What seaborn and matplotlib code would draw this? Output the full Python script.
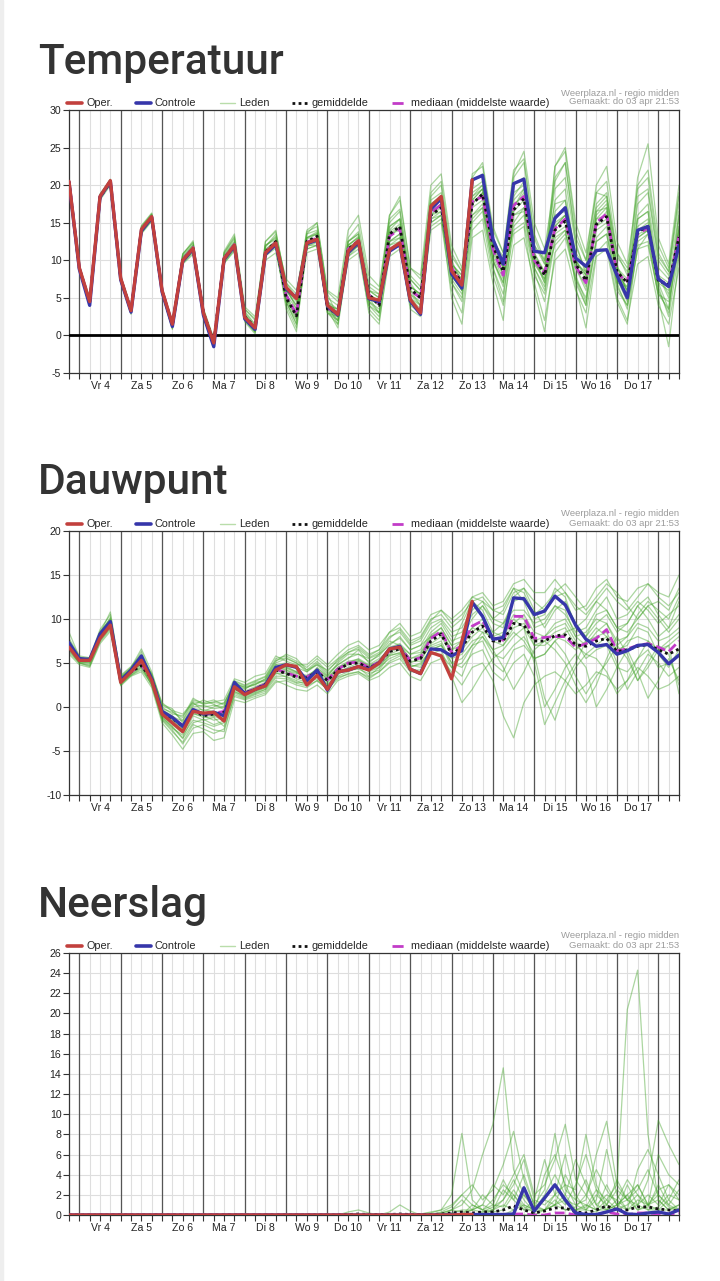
import numpy as np
import pandas as pd
import seaborn as sns
import matplotlib.pyplot as plt
from matplotlib.lines import Line2D
from matplotlib.patches import Rectangle

# 6-hour steps, starting do 3 apr 18:00 and ending vr 18 apr 12:00
steps = list(range(60))
day_labels = ['Vr 4', 'Za 5', 'Zo 6', 'Ma 7', 'Di 8', 'Wo 9', 'Do 10',
              'Vr 11', 'Za 12', 'Zo 13', 'Ma 14', 'Di 15', 'Wo 16', 'Do 17']

# ---------------- Temperatuur ----------------
temp_oper = [20.5, 9.0, 4.5, 18.5, 20.6, 7.6, 3.3, 14.1, 15.8, 6.0, 1.5, 10.0, 11.6, 3.0, -1.0, 10.2,
             12.0, 2.4, 1.0, 11.0, 12.3, 6.4, 4.9, 12.3, 12.8, 4.0, 2.8, 11.2, 12.6, 5.0, 4.7, 11.4,
             12.3, 4.8, 3.0, 17.2, 18.5, 8.6, 6.7, 20.7]
temp_controle = [20.4, 8.8, 4.0, 18.4, 20.5, 7.4, 3.1, 13.9, 15.7, 5.8, 1.2, 9.9, 11.5, 2.7, -1.5, 10.1,
                 11.9, 2.2, 0.8, 10.8, 12.1, 6.2, 5.0, 12.2, 12.7, 3.9, 2.7, 11.0, 12.4, 4.9, 4.5, 11.2,
                 12.1, 4.6, 2.8, 16.8, 18.2, 8.2, 6.3, 20.7, 21.3, 12.8, 9.5, 20.2, 20.8, 11.2, 11.0, 15.6,
                 17.0, 10.3, 9.2, 11.3, 11.4, 8.0, 5.0, 14.0, 14.5, 7.5, 6.5, 12.0]
temp_mean = [20.4, 8.9, 4.4, 18.4, 20.4, 7.5, 3.3, 14.0, 15.7, 5.9, 1.4, 10.0, 11.6, 3.0, -0.9, 10.2,
             12.0, 2.5, 1.1, 11.1, 12.5, 5.0, 2.6, 12.5, 13.2, 3.5, 3.0, 11.5, 12.5, 5.5, 4.0, 13.5,
             14.5, 6.2, 5.0, 16.0, 17.0, 9.0, 7.0, 17.5, 18.8, 12.0, 8.5, 16.7, 18.2, 10.5, 8.0, 14.0,
             15.2, 9.5, 7.3, 14.8, 15.8, 8.5, 7.0, 13.8, 14.5, 7.2, 6.8, 13.1]
temp_median = [20.5, 9.0, 4.5, 18.5, 20.5, 7.6, 3.3, 14.1, 15.8, 6.0, 1.5, 10.1, 11.7, 3.0, -1.0, 10.3,
               12.1, 2.5, 1.0, 11.1, 12.4, 5.4, 2.8, 12.4, 13.0, 3.6, 3.0, 11.5, 12.6, 5.4, 4.2, 13.2,
               14.2, 6.0, 5.0, 16.3, 17.4, 9.0, 7.0, 17.8, 18.5, 11.5, 8.0, 17.3, 18.5, 10.0, 8.3, 14.2,
               15.5, 9.2, 7.0, 15.0, 16.2, 8.2, 7.2, 13.5, 14.3, 7.5, 6.6, 13.3]
temp_leden = [
    [20.3, 9.2, 4.8, 18.7, 20.6, 7.8, 3.6, 14.4, 16.1, 6.3, 1.8, 10.6, 12.1, 3.5, -0.5, 10.8,
     12.8, 3.2, 1.5, 11.8, 13.5, 7.0, 5.5, 13.8, 14.5, 5.8, 4.5, 13.0, 14.8, 7.0, 6.0, 15.5,
     16.8, 8.0, 6.5, 19.0, 20.5, 11.0, 8.5, 21.5, 22.5, 14.0, 11.0, 22.0, 23.5, 13.5, 10.0, 19.5,
     21.0, 12.0, 8.5, 16.0, 17.5, 9.0, 6.0, 17.5, 19.0, 10.0, 8.0, 16.0],
    [20.4, 8.7, 4.2, 18.2, 20.2, 7.2, 2.8, 13.5, 15.2, 5.6, 0.8, 9.5, 10.8, 2.4, -1.6, 9.6,
     11.2, 1.8, 0.2, 10.0, 11.0, 5.0, 2.2, 11.0, 11.5, 3.0, 1.5, 10.0, 11.0, 3.5, 2.0, 10.5,
     11.5, 4.0, 3.0, 14.0, 15.0, 6.0, 3.0, 14.0, 15.5, 8.0, 4.0, 12.0, 13.0, 7.0, 2.0, 10.0,
     11.5, 6.0, 3.0, 11.0, 12.5, 5.0, 2.0, 9.5, 10.5, 4.0, 1.5, 9.0],
    [20.6, 9.0, 4.4, 18.4, 20.5, 7.4, 3.0, 14.2, 15.9, 5.9, 1.2, 10.2, 11.8, 2.8, -1.2, 10.4,
     12.3, 2.8, 1.0, 12.5, 14.0, 6.5, 3.5, 13.0, 13.8, 4.5, 3.0, 12.0, 13.0, 5.5, 4.5, 14.5,
     15.5, 6.5, 5.5, 17.0, 18.0, 9.0, 7.5, 19.5, 20.5, 12.0, 9.0, 18.0, 19.5, 10.5, 7.0, 16.5,
     18.0, 11.0, 9.0, 19.0, 20.5, 11.0, 9.0, 14.0, 15.0, 8.0, 5.0, 14.5],
    [20.5, 9.1, 4.6, 18.6, 20.4, 7.6, 3.4, 14.6, 16.3, 6.1, 1.6, 10.8, 12.4, 3.2, -0.8, 11.2,
     13.5, 3.8, 2.5, 12.0, 12.8, 4.5, 1.5, 12.0, 12.5, 3.5, 2.0, 12.5, 13.5, 6.0, 5.0, 16.0,
     18.5, 9.0, 7.5, 18.0, 19.0, 8.0, 6.0, 17.0, 18.0, 10.0, 7.0, 21.0, 23.0, 13.0, 9.5, 22.5,
     24.5, 14.0, 10.0, 17.0, 18.5, 9.5, 5.5, 15.5, 16.5, 7.0, 3.5, 12.5],
    [20.2, 8.8, 4.0, 18.0, 20.0, 7.0, 3.2, 13.8, 15.5, 5.5, 1.0, 9.8, 11.2, 2.6, -1.4, 9.8,
     11.5, 2.0, 0.5, 10.5, 12.0, 6.0, 4.5, 12.0, 12.0, 4.0, 2.0, 10.5, 12.0, 4.5, 3.5, 12.0,
     13.0, 5.0, 3.5, 16.0, 17.5, 8.5, 6.0, 17.5, 19.0, 11.0, 8.0, 14.0, 15.0, 8.0, 5.5, 13.0,
     14.0, 7.0, 4.0, 16.5, 18.0, 9.0, 7.0, 20.0, 22.0, 12.0, 9.0, 18.5],
    [20.4, 9.3, 5.0, 18.8, 20.8, 8.0, 3.8, 14.0, 15.6, 6.0, 1.4, 10.4, 11.6, 3.0, -1.0, 10.2,
     12.0, 2.5, 1.2, 11.0, 12.5, 5.5, 2.5, 13.5, 15.0, 5.5, 2.5, 11.5, 12.5, 5.0, 3.0, 13.0,
     14.5, 7.0, 5.0, 18.5, 20.0, 10.0, 7.0, 16.0, 17.0, 9.0, 4.5, 17.0, 19.0, 11.0, 8.0, 21.0,
     23.0, 12.5, 8.0, 14.5, 15.5, 7.0, 3.5, 11.5, 13.5, 6.0, 3.0, 14.5],
    [20.5, 9.0, 4.3, 18.5, 20.6, 7.5, 3.3, 14.0, 15.8, 6.0, 1.5, 10.0, 11.5, 3.0, -1.1, 10.2,
     12.0, 2.4, 0.8, 11.5, 12.5, 6.5, 5.0, 12.5, 12.5, 3.5, 2.5, 11.5, 12.5, 4.5, 3.0, 13.5,
     14.5, 5.0, 4.0, 16.0, 17.0, 7.5, 5.5, 20.5, 21.5, 13.0, 10.0, 20.0, 21.0, 11.0, 8.5, 18.0,
     19.5, 10.0, 7.5, 14.0, 15.0, 8.5, 6.0, 13.5, 14.0, 7.5, 6.5, 13.5],
    [20.4, 8.9, 4.5, 18.3, 20.3, 7.3, 3.1, 13.6, 15.4, 5.7, 1.1, 9.7, 11.3, 2.7, -1.3, 10.0,
     11.8, 2.2, 0.6, 10.8, 11.8, 4.0, 1.0, 11.5, 12.0, 3.5, 1.0, 10.8, 12.0, 4.0, 2.5, 12.5,
     13.5, 4.5, 2.8, 15.5, 16.5, 7.0, 4.5, 15.0, 16.5, 9.0, 5.5, 13.5, 14.5, 6.0, 0.5, 11.0,
     13.0, 7.5, 4.0, 12.5, 13.5, 6.0, 4.0, 13.0, 14.0, 6.5, 2.5, 11.0],
    [20.6, 9.1, 4.7, 18.6, 20.7, 7.7, 3.5, 14.3, 16.0, 6.2, 1.7, 10.3, 11.9, 3.3, -0.6, 10.6,
     12.5, 3.5, 2.0, 12.0, 13.0, 7.5, 6.0, 13.0, 13.5, 5.0, 4.0, 12.5, 13.5, 5.0, 4.0, 14.0,
     15.5, 7.5, 6.0, 17.5, 18.5, 9.5, 8.0, 18.0, 19.5, 11.5, 9.0, 19.0, 20.0, 12.0, 10.0, 17.5,
     18.0, 10.0, 8.0, 15.5, 16.0, 8.0, 6.0, 18.5, 19.5, 10.5, 8.5, 17.5],
    [20.3, 8.9, 4.3, 18.4, 20.4, 7.5, 3.2, 14.1, 15.7, 5.8, 1.3, 10.1, 11.6, 2.9, -1.0, 10.3,
     12.2, 2.3, 0.7, 11.0, 12.0, 3.5, 0.5, 12.5, 12.8, 4.0, 1.5, 11.0, 12.0, 3.0, 1.5, 11.5,
     12.5, 3.5, 2.5, 15.0, 16.0, 5.0, 1.5, 13.0, 14.0, 7.0, 2.0, 16.0, 17.0, 9.0, 6.0, 14.5,
     16.0, 6.5, 1.0, 10.5, 11.5, 4.5, 1.5, 12.5, 13.5, 5.0, -1.5, 10.5],
    [20.5, 9.0, 4.6, 18.5, 20.5, 7.6, 3.4, 14.2, 16.0, 6.1, 1.6, 10.2, 11.7, 3.1, -0.9, 10.3,
     12.1, 2.6, 1.1, 11.2, 12.3, 5.0, 3.0, 12.5, 13.0, 4.0, 3.5, 12.0, 13.0, 6.0, 5.0, 13.5,
     14.0, 6.0, 5.0, 16.5, 17.5, 8.0, 6.5, 18.5, 19.5, 10.0, 7.0, 16.0, 16.5, 9.0, 6.5, 14.5,
     16.0, 9.0, 6.0, 16.5, 17.0, 7.5, 4.5, 15.5, 16.5, 8.0, 5.5, 15.5],
    [20.4, 9.0, 4.4, 18.5, 20.5, 7.4, 3.3, 14.0, 15.8, 6.0, 1.5, 10.0, 11.6, 3.0, -1.0, 10.2,
     12.0, 2.5, 1.0, 11.0, 12.3, 6.0, 4.0, 12.0, 12.8, 4.5, 2.5, 11.5, 12.8, 5.5, 4.5, 12.0,
     12.5, 6.0, 4.0, 17.5, 18.5, 10.5, 8.5, 21.0, 23.0, 14.5, 11.0, 16.5, 18.0, 10.0, 7.0, 22.5,
     25.0, 15.0, 11.0, 19.0, 18.5, 11.0, 8.0, 21.0, 25.5, 13.0, 9.5, 20.0],
    [20.5, 9.1, 4.5, 18.6, 20.6, 7.7, 3.4, 14.3, 16.0, 6.1, 1.6, 10.8, 12.6, 3.4, -0.7, 11.0,
     13.0, 3.0, 1.4, 11.8, 13.2, 4.5, 2.0, 13.5, 14.0, 3.0, 2.5, 12.5, 13.8, 6.5, 5.5, 15.0,
     16.5, 7.5, 6.0, 15.5, 16.0, 9.5, 8.0, 18.5, 20.0, 12.5, 9.0, 18.5, 20.5, 12.0, 9.5, 16.0,
     16.5, 8.0, 4.5, 12.5, 13.5, 7.0, 6.5, 16.0, 17.5, 9.0, 7.5, 14.0],
    [20.4, 8.9, 4.4, 18.3, 20.3, 7.4, 3.2, 13.8, 15.5, 5.8, 1.3, 9.6, 11.0, 2.6, -1.5, 9.6,
     11.4, 2.0, 0.4, 11.0, 12.0, 5.5, 3.5, 11.5, 12.0, 4.5, 3.5, 10.5, 11.5, 6.0, 5.5, 12.5,
     13.5, 5.5, 4.5, 14.5, 15.5, 8.0, 6.0, 16.0, 17.5, 10.0, 6.5, 15.0, 17.0, 9.5, 7.5, 12.0,
     13.5, 9.5, 8.5, 17.5, 19.0, 10.5, 8.5, 12.0, 12.5, 5.5, 3.5, 16.5],
    [20.5, 9.0, 4.6, 18.5, 20.5, 7.5, 3.4, 14.2, 15.9, 6.0, 1.4, 10.4, 12.0, 3.1, -0.8, 10.6,
     12.4, 2.8, 1.2, 11.4, 12.6, 6.0, 4.0, 13.0, 13.6, 4.0, 3.5, 12.0, 13.2, 5.0, 4.0, 14.5,
     15.5, 6.5, 5.5, 16.5, 17.5, 9.5, 7.5, 18.0, 19.5, 12.0, 9.5, 17.5, 18.5, 10.0, 7.5, 15.0,
     16.0, 9.0, 6.5, 15.5, 17.0, 8.0, 6.5, 14.5, 15.5, 7.0, 6.0, 14.0],
    [20.3, 8.8, 4.1, 18.2, 20.2, 7.3, 3.0, 13.7, 15.3, 5.6, 0.9, 9.7, 11.2, 2.5, -1.4, 9.9,
     11.6, 2.1, 0.5, 10.6, 11.6, 4.5, 1.5, 11.8, 12.4, 3.0, 2.0, 11.0, 12.0, 4.0, 3.0, 12.5,
     13.0, 5.5, 4.0, 15.0, 16.0, 7.0, 5.0, 15.5, 17.0, 10.5, 7.5, 14.5, 16.0, 8.5, 4.5, 12.5,
     14.0, 7.5, 5.0, 13.0, 14.5, 6.5, 4.0, 11.5, 12.0, 5.5, 4.5, 11.5],
    [20.6, 9.2, 4.9, 18.8, 20.7, 7.8, 3.7, 14.5, 16.2, 6.4, 1.9, 10.9, 12.3, 3.6, -0.4, 11.0,
     13.2, 3.5, 2.2, 12.5, 13.8, 7.0, 5.0, 14.0, 15.0, 6.0, 5.0, 14.0, 16.0, 8.0, 6.5, 16.0,
     18.0, 9.0, 8.0, 20.0, 21.5, 12.0, 9.0, 19.0, 20.0, 12.5, 10.5, 21.5, 24.5, 15.0, 11.5, 20.5,
     23.0, 13.0, 10.0, 20.0, 22.5, 12.5, 9.5, 19.5, 21.0, 11.0, 8.5, 19.0],
    [20.4, 9.0, 4.5, 18.4, 20.4, 7.5, 3.3, 14.0, 15.7, 5.9, 1.5, 9.9, 11.5, 3.0, -1.0, 10.1,
     11.9, 2.5, 1.0, 11.2, 12.6, 4.8, 2.5, 12.8, 13.5, 3.5, 3.0, 11.8, 12.5, 5.5, 4.5, 13.8,
     14.8, 6.5, 5.5, 16.0, 16.5, 8.5, 6.5, 17.5, 19.0, 11.5, 8.0, 17.0, 19.5, 10.5, 8.5, 13.5,
     14.5, 10.0, 8.0, 14.5, 16.5, 9.0, 7.5, 13.0, 14.0, 8.0, 7.0, 12.5],
]

# ---------------- Dauwpunt ----------------
dauw_oper = [6.8, 5.3, 5.3, 7.8, 9.3, 2.8, 4.0, 5.3, 3.0, -0.8, -1.8, -2.8, -0.5, -0.7, -0.6, -1.6,
             2.3, 1.4, 2.0, 2.4, 4.2, 4.8, 4.6, 2.5, 3.6, 2.0, 4.0, 4.2, 4.6, 4.2, 5.0, 6.6,
             6.8, 4.3, 3.8, 6.2, 5.8, 3.2, 7.5, 12.0]
dauw_controle = [7.3, 5.5, 5.4, 8.3, 9.7, 3.0, 4.2, 5.8, 3.2, -0.5, -1.2, -2.2, -0.3, -0.8, -0.6, -1.0,
                 2.8, 1.5, 2.0, 2.5, 4.5, 4.8, 4.5, 3.0, 4.2, 1.9, 4.0, 4.2, 4.6, 4.3, 5.0, 6.6,
                 6.9, 4.3, 3.8, 6.6, 6.5, 5.8, 6.4, 11.9, 10.3, 7.7, 7.9, 12.4, 12.3, 10.5, 10.9, 12.6,
                 11.6, 9.3, 7.7, 6.9, 7.1, 6.0, 6.4, 7.0, 7.1, 6.2, 4.9, 5.9]
dauw_mean = [7.0, 5.4, 5.3, 8.0, 9.5, 3.0, 4.0, 4.7, 3.2, -0.6, -1.3, -2.2, -0.4, -1.0, -0.8, -0.6,
             2.2, 1.6, 2.0, 2.6, 4.2, 3.8, 3.4, 3.3, 4.0, 3.0, 4.2, 4.9, 5.0, 4.4, 5.0, 6.3,
             6.6, 5.2, 5.5, 7.5, 8.3, 6.0, 6.8, 8.5, 9.2, 7.5, 7.5, 9.5, 9.3, 7.5, 7.5, 8.1,
             8.2, 7.1, 6.9, 7.5, 7.8, 6.3, 6.5, 6.9, 7.1, 6.5, 6.0, 6.6]
dauw_median = [7.0, 5.4, 5.3, 8.0, 9.5, 3.0, 4.0, 4.8, 3.2, -0.6, -1.2, -2.1, -0.3, -0.9, -0.7, -0.5,
               2.2, 1.6, 2.1, 2.6, 4.3, 3.9, 3.5, 3.4, 4.1, 3.1, 4.3, 5.0, 5.1, 4.5, 5.1, 6.4,
               6.8, 5.3, 5.6, 7.8, 8.6, 6.2, 7.0, 9.2, 9.8, 7.8, 7.6, 10.3, 10.3, 7.8, 7.9, 8.0,
               8.0, 6.8, 7.2, 7.8, 8.8, 6.4, 6.6, 7.0, 7.2, 6.8, 6.3, 7.5]
dauw_leden = [
    [7.5, 5.6, 5.2, 8.2, 10.2, 3.3, 4.4, 6.3, 3.6, 0.5, -0.5, -1.5, 0.8, 0.5, 0.8, 0.2,
     3.0, 2.5, 3.0, 3.5, 5.5, 5.8, 5.2, 4.5, 5.5, 4.5, 5.5, 6.5, 7.0, 6.0, 6.5, 8.0,
     8.5, 7.0, 7.5, 9.5, 10.0, 8.5, 9.0, 11.0, 12.0, 11.0, 10.5, 13.0, 13.5, 12.0, 11.0, 12.5,
     13.0, 11.5, 10.5, 12.0, 13.5, 12.0, 11.0, 12.5, 14.0, 12.5, 11.5, 13.0],
    [6.2, 5.0, 4.6, 7.4, 8.8, 2.5, 3.6, 4.2, 2.6, -1.5, -2.8, -4.0, -2.0, -2.5, -3.0, -2.5,
     1.2, 0.8, 1.2, 1.6, 3.0, 2.5, 2.0, 1.8, 2.5, 1.5, 3.0, 3.5, 3.8, 3.0, 3.5, 4.5,
     5.0, 3.5, 3.0, 5.0, 5.5, 4.0, 2.5, 4.5, 5.0, 3.0, -1.0, -3.5, 0.5, 2.5, 3.5, 4.0,
     3.0, 1.5, 2.5, 4.0, 3.5, 2.0, 3.0, 4.5, 3.5, 2.0, 2.5, 3.5],
    [7.0, 5.3, 5.4, 8.6, 10.0, 3.4, 4.2, 5.5, 3.8, 0.0, -0.8, -1.0, 0.5, -0.5, 0.0, 0.5,
     2.5, 2.0, 2.8, 3.0, 4.8, 4.5, 4.0, 3.0, 4.5, 3.5, 5.0, 6.0, 6.0, 5.5, 6.0, 7.5,
     7.0, 6.0, 6.5, 8.5, 9.5, 7.5, 8.0, 10.0, 11.5, 9.5, 9.0, 12.5, 13.5, 11.0, 9.0, 11.0,
     12.0, 9.5, 8.0, 10.5, 11.0, 9.0, 8.5, 10.0, 11.5, 10.0, 8.5, 10.0],
    [6.5, 5.1, 5.0, 7.6, 9.0, 2.6, 3.8, 4.8, 2.4, -1.2, -2.2, -3.5, -1.0, -1.5, -1.2, -2.2,
     1.6, 1.0, 1.5, 2.0, 3.5, 3.5, 3.0, 2.5, 3.5, 2.5, 3.5, 4.0, 4.5, 3.5, 4.5, 5.5,
     6.0, 4.5, 5.0, 6.5, 7.0, 5.5, 6.0, 7.5, 8.0, 6.0, 5.5, 7.0, 8.0, 6.0, 1.0, -1.5,
     2.0, 4.5, 6.0, 5.5, 4.0, 1.5, 3.0, 5.5, 6.5, 4.5, 5.0, 6.0],
    [7.8, 5.8, 5.6, 8.8, 10.5, 3.6, 4.6, 6.0, 3.4, -0.3, -1.0, -2.0, 0.2, 0.8, 0.3, -0.3,
     2.8, 2.2, 2.5, 3.2, 5.0, 5.5, 5.0, 4.0, 5.0, 3.8, 4.8, 5.5, 6.5, 5.0, 6.0, 7.0,
     8.0, 6.5, 7.0, 8.0, 9.0, 7.0, 9.5, 12.0, 11.0, 8.5, 9.5, 12.0, 12.5, 10.0, 10.5, 13.5,
     12.5, 9.0, 8.0, 9.5, 10.5, 8.5, 9.5, 11.5, 10.0, 8.0, 9.0, 12.0],
    [6.8, 5.2, 5.1, 7.9, 9.4, 2.9, 4.0, 5.0, 2.9, -1.0, -2.0, -3.0, -0.8, -1.0, -1.5, -1.2,
     2.0, 1.2, 1.8, 2.2, 4.0, 4.0, 3.5, 3.0, 3.8, 2.8, 4.0, 4.5, 5.0, 4.0, 4.5, 6.0,
     6.5, 5.0, 5.5, 7.0, 7.5, 5.0, 4.5, 6.0, 6.5, 4.0, 3.0, 5.0, 6.0, 3.5, -2.0, 0.5,
     3.0, 5.0, 7.5, 9.0, 8.0, 5.0, 2.0, 4.0, 6.0, 5.0, 3.5, 4.5],
    [7.2, 5.5, 5.5, 8.1, 9.6, 3.1, 4.3, 5.2, 3.3, -0.5, -1.5, -2.4, -0.2, -0.3, -0.5, -0.8,
     2.4, 1.8, 2.3, 2.8, 4.5, 4.2, 3.8, 3.6, 4.2, 3.2, 4.5, 5.0, 5.5, 4.8, 5.5, 6.5,
     7.0, 5.5, 6.0, 8.0, 8.5, 6.5, 7.5, 9.0, 10.0, 8.0, 8.5, 10.5, 10.0, 7.0, 7.5, 8.5,
     9.0, 7.0, 6.0, 7.0, 8.0, 6.5, 7.0, 9.0, 8.5, 6.0, 7.0, 8.0],
    [6.0, 4.8, 4.5, 7.2, 8.6, 2.4, 3.5, 4.0, 2.2, -1.8, -3.2, -4.8, -3.0, -2.8, -3.8, -3.5,
     0.8, 0.5, 1.0, 1.4, 2.8, 3.0, 2.5, 2.2, 3.0, 2.0, 3.2, 3.8, 4.0, 3.2, 4.0, 5.0,
     5.5, 4.0, 4.0, 6.0, 6.5, 3.5, 0.5, 2.0, 4.0, 5.5, 6.5, 8.0, 9.0, 5.0, 0.0, 2.0,
     4.5, 6.0, 4.5, 0.0, 2.0, 4.5, 6.5, 4.0, 1.0, 3.0, 5.5, 3.0],
    [8.5, 5.7, 5.3, 8.4, 10.8, 3.5, 4.5, 6.6, 4.0, 0.3, -0.2, -1.8, 0.0, 0.2, -0.2, 0.0,
     2.6, 2.3, 2.6, 3.2, 5.2, 6.0, 5.5, 4.2, 4.8, 4.2, 5.2, 6.2, 6.8, 5.8, 6.5, 8.5,
     9.0, 7.5, 8.0, 10.0, 10.5, 9.0, 10.0, 12.5, 13.0, 11.5, 12.0, 14.0, 14.5, 13.0, 13.0, 14.5,
     13.0, 11.0, 11.5, 13.5, 14.5, 12.5, 12.0, 13.5, 14.0, 13.0, 12.5, 15.0],
    [6.6, 5.0, 4.8, 7.7, 9.2, 2.7, 3.7, 4.5, 2.7, -1.3, -2.4, -3.2, -1.5, -1.8, -2.2, -1.8,
     1.8, 1.1, 1.6, 2.0, 3.8, 3.8, 3.2, 2.8, 3.2, 2.2, 3.8, 4.2, 4.3, 3.8, 4.2, 5.8,
     6.2, 4.8, 4.5, 6.8, 7.2, 4.5, 5.0, 7.0, 7.5, 5.0, 4.0, 6.5, 7.0, 5.5, 6.0, 7.5,
     6.0, 3.5, 1.5, 3.5, 5.0, 7.0, 5.5, 3.0, 5.0, 7.0, 6.0, 2.5],
    [7.4, 5.4, 5.4, 8.0, 9.8, 3.2, 4.1, 5.6, 3.5, -0.2, -0.6, -1.2, 1.0, 0.3, 0.6, 0.8,
     3.2, 2.8, 3.5, 3.8, 5.8, 5.2, 4.8, 4.8, 5.8, 4.8, 6.0, 7.0, 7.5, 6.5, 7.0, 8.5,
     9.5, 8.0, 8.5, 10.5, 11.0, 10.0, 11.0, 12.5, 12.0, 10.0, 11.0, 13.5, 12.0, 9.0, 9.5, 11.5,
     10.5, 8.5, 9.0, 11.0, 12.5, 10.0, 10.5, 12.0, 11.0, 9.5, 10.5, 11.5],
    [6.9, 5.2, 5.2, 7.9, 9.5, 2.9, 3.9, 5.0, 3.0, -0.9, -1.9, -2.6, -0.6, -0.8, -0.9, -1.0,
     2.2, 1.5, 2.1, 2.5, 4.3, 4.6, 4.0, 3.2, 4.0, 3.0, 4.2, 4.8, 5.2, 4.4, 5.2, 6.2,
     6.8, 5.2, 5.2, 7.2, 8.0, 6.0, 6.5, 8.0, 9.0, 7.5, 7.0, 9.0, 9.5, 7.5, 8.0, 9.5,
     10.0, 8.0, 7.0, 8.5, 9.5, 7.0, 8.0, 9.5, 9.0, 7.5, 8.0, 9.0],
    [7.1, 5.3, 5.3, 8.0, 9.6, 3.0, 4.0, 5.1, 3.1, -0.7, -1.6, -2.5, -0.5, -0.9, -1.0, -0.9,
     2.1, 1.4, 1.9, 2.4, 4.1, 4.2, 3.6, 3.4, 4.4, 3.4, 4.5, 5.2, 5.4, 4.6, 5.3, 6.8,
     7.2, 6.0, 6.2, 8.2, 9.0, 7.0, 7.5, 9.0, 8.5, 6.5, 7.0, 8.5, 7.5, 5.5, 6.0, 7.5,
     8.5, 9.0, 10.0, 12.0, 11.0, 9.0, 9.5, 11.5, 12.5, 10.5, 9.0, 10.5],
    [6.7, 5.1, 5.0, 7.7, 9.3, 2.8, 3.8, 4.6, 2.8, -1.1, -2.3, -3.6, -1.8, -1.4, -2.0, -1.6,
     1.7, 1.3, 1.7, 2.2, 3.9, 3.4, 2.8, 2.8, 3.6, 2.6, 3.7, 4.4, 4.7, 4.1, 4.7, 5.9,
     6.1, 4.6, 4.8, 6.5, 7.0, 5.0, 5.5, 7.0, 8.5, 8.0, 7.5, 9.5, 10.5, 8.5, 8.0, 9.0,
     9.5, 7.5, 5.5, 6.5, 7.0, 4.5, 4.0, 5.5, 7.5, 6.0, 4.5, 6.5],
    [7.3, 5.5, 5.6, 8.3, 9.9, 3.3, 4.3, 5.4, 3.4, -0.4, -1.1, -1.6, 0.4, 0.0, 0.2, 0.0,
     2.7, 2.1, 2.6, 3.0, 4.8, 5.0, 4.5, 4.0, 4.8, 3.6, 4.8, 5.6, 6.0, 5.2, 5.8, 7.2,
     7.8, 6.5, 7.0, 9.0, 9.8, 8.0, 8.5, 10.5, 11.5, 10.0, 9.5, 11.0, 11.0, 9.5, 10.0, 11.5,
     11.0, 8.0, 8.5, 10.0, 9.5, 7.5, 8.0, 10.5, 12.0, 11.0, 10.0, 12.5],
    [6.4, 5.0, 4.7, 7.5, 9.0, 2.6, 3.6, 4.4, 2.5, -1.4, -2.6, -4.2, -2.4, -2.0, -2.6, -2.8,
     1.4, 0.9, 1.4, 1.8, 3.3, 3.2, 2.7, 2.4, 3.0, 2.0, 3.4, 3.7, 4.0, 3.4, 4.0, 5.2,
     5.8, 4.2, 4.2, 6.0, 6.0, 4.5, 3.5, 6.5, 8.0, 6.5, 4.5, 2.0, 4.0, 6.5, 7.5, 6.5,
     5.0, 2.5, 0.5, 2.5, 5.5, 8.0, 6.0, 3.0, 4.5, 6.5, 7.0, 1.5],
    [7.6, 5.6, 5.5, 8.5, 10.0, 3.4, 4.4, 5.8, 3.7, 0.2, -0.4, -0.8, 0.6, 0.4, 0.5, 0.4,
     2.9, 2.4, 2.9, 3.4, 5.3, 5.6, 5.0, 4.2, 5.2, 4.0, 5.4, 6.2, 6.6, 5.6, 6.2, 7.8,
     8.8, 7.2, 7.8, 9.8, 11.0, 9.5, 10.5, 12.0, 12.5, 11.0, 11.5, 13.5, 13.0, 10.5, 11.5, 13.0,
     14.0, 12.5, 11.0, 12.5, 14.0, 13.0, 11.5, 10.0, 11.5, 12.0, 11.0, 13.5],
    [7.0, 5.3, 5.2, 7.8, 9.4, 3.0, 4.0, 4.9, 3.1, -0.8, -1.7, -2.8, -0.7, -1.2, -1.1, -1.3,
     2.0, 1.6, 2.2, 2.7, 4.4, 4.4, 3.9, 3.5, 4.2, 3.2, 4.3, 5.0, 5.3, 4.7, 5.2, 6.4,
     7.0, 5.5, 5.8, 7.8, 8.5, 6.5, 7.0, 8.5, 9.5, 8.5, 8.0, 10.0, 9.0, 7.0, 7.0, 8.0,
     7.5, 6.5, 7.5, 8.0, 8.5, 6.0, 7.5, 8.0, 7.5, 6.5, 7.5, 8.5],
]

# ---------------- Neerslag ----------------
neer_oper = [0, 0, 0, 0, 0, 0, 0, 0, 0, 0, 0, 0, 0, 0, 0, 0, 0, 0, 0, 0,
             0, 0, 0, 0, 0, 0, 0, 0, 0, 0, 0, 0, 0, 0, 0, 0, 0, 0, 0.05, 0.05]
neer_controle = [0, 0, 0, 0, 0, 0, 0, 0, 0, 0, 0, 0, 0, 0, 0, 0, 0, 0, 0, 0,
                 0, 0, 0, 0, 0, 0, 0, 0, 0, 0, 0, 0, 0, 0, 0, 0, 0, 0.05, 0.05, 0.05,
                 0.05, 0.05, 0.05, 0.1, 2.7, 0.4, 1.7, 3.0, 1.5, 0.2, 0.05, 0.05, 0.3, 0.6, 0.1, 0.05,
                 0.2, 0.3, 0.1, 0.5]
neer_mean = [0, 0, 0, 0, 0, 0, 0, 0, 0, 0, 0, 0, 0, 0, 0, 0, 0, 0, 0, 0,
             0, 0, 0, 0, 0, 0, 0, 0.05, 0.1, 0.05, 0.05, 0.05, 0.1, 0.05, 0.05, 0.05, 0.1, 0.2, 0.3, 0.2,
             0.3, 0.3, 0.5, 0.9, 0.5, 0.2, 0.4, 0.7, 0.7, 0.3, 0.2, 0.5, 0.9, 0.5, 0.5, 0.8,
             0.8, 0.6, 0.5, 0.4]
neer_median = [0, 0, 0, 0, 0, 0, 0, 0, 0, 0, 0, 0, 0, 0, 0, 0, 0, 0, 0, 0,
               0, 0, 0, 0, 0, 0, 0, 0, 0, 0, 0, 0, 0, 0, 0, 0, 0, 0, 0, 0,
               0, 0, 0, 0.1, 0.1, 0, 0, 0.2, 0.2, 0, 0, 0, 0.3, 0.1, 0, 0.2,
               0.2, 0.1, 0, 0.2]
neer_leden = [
    [0, 0, 0, 0, 0, 0, 0, 0, 0, 0, 0, 0, 0, 0, 0, 0, 0, 0, 0, 0,
     0, 0, 0, 0, 0, 0, 0, 0.3, 0.5, 0.2, 0, 0, 0, 0, 0.1, 0.2, 0.5, 2.0, 8.1, 1.5,
     0.5, 1.0, 0.8, 2.5, 1.0, 0.5, 1.5, 3.0, 1.2, 0.5, 0.8, 2.5, 1.5, 0.6, 1.0, 2.0,
     0.5, 0.8, 2.0, 1.5],
    [0, 0, 0, 0, 0, 0, 0, 0, 0, 0, 0, 0, 0, 0, 0, 0, 0, 0, 0, 0,
     0, 0, 0, 0, 0, 0, 0, 0, 0, 0, 0, 0, 0, 0, 0, 0, 0.2, 0.5, 1.0, 2.5,
     6.0, 9.0, 14.6, 4.5, 2.0, 0.8, 0.5, 1.0, 4.0, 2.0, 0.5, 0.3, 1.0, 2.5, 1.5, 0.5,
     0.8, 3.0, 1.0, 0.5],
    [0, 0, 0, 0, 0, 0, 0, 0, 0, 0, 0, 0, 0, 0, 0, 0, 0, 0, 0, 0,
     0, 0, 0, 0, 0, 0, 0, 0, 0, 0, 0, 0.3, 1.0, 0.4, 0, 0, 0.3, 0.8, 2.0, 3.0,
     1.5, 2.5, 5.0, 8.3, 3.5, 1.0, 2.5, 8.1, 2.5, 1.5, 3.5, 1.0, 0.5, 1.5, 0.5, 1.0,
     3.5, 9.4, 7.0, 5.0],
    [0, 0, 0, 0, 0, 0, 0, 0, 0, 0, 0, 0, 0, 0, 0, 0, 0, 0, 0, 0,
     0, 0, 0, 0, 0, 0, 0, 0, 0, 0, 0, 0, 0, 0, 0, 0, 0, 0.2, 0.5, 0.5,
     1.0, 3.0, 2.0, 4.0, 6.0, 2.0, 3.0, 5.5, 9.0, 3.5, 2.0, 4.5, 2.5, 1.0, 0.5, 1.5,
     1.0, 0.5, 0.5, 1.0],
    [0, 0, 0, 0, 0, 0, 0, 0, 0, 0, 0, 0, 0, 0, 0, 0, 0, 0, 0, 0,
     0, 0, 0, 0, 0, 0, 0, 0, 0, 0, 0, 0, 0, 0, 0, 0, 0, 0, 0, 0,
     0, 0.5, 1.5, 3.0, 5.5, 1.5, 1.0, 2.0, 3.0, 2.5, 8.0, 3.0, 1.0, 0.5, 3.0, 1.0,
     0.5, 0.5, 1.5, 0.5],
    [0, 0, 0, 0, 0, 0, 0, 0, 0, 0, 0, 0, 0, 0, 0, 0, 0, 0, 0, 0,
     0, 0, 0, 0, 0, 0, 0, 0, 0, 0, 0, 0, 0, 0, 0, 0, 0, 0, 0, 0.5,
     2.0, 1.0, 3.5, 1.5, 0.5, 0.5, 1.5, 1.0, 1.5, 1.0, 1.5, 6.0, 9.3, 3.0, 1.5, 1.0,
     2.0, 1.0, 3.0, 2.0],
    [0, 0, 0, 0, 0, 0, 0, 0, 0, 0, 0, 0, 0, 0, 0, 0, 0, 0, 0, 0,
     0, 0, 0, 0, 0, 0, 0, 0, 0, 0, 0, 0, 0, 0, 0, 0, 0, 0, 0, 0,
     0, 0, 0, 0, 0, 0, 0.5, 1.0, 0.5, 0.5, 1.0, 0.5, 1.5, 3.0, 20.4, 24.3,
     8.0, 1.5, 0.5, 0.5],
    [0, 0, 0, 0, 0, 0, 0, 0, 0, 0, 0, 0, 0, 0, 0, 0, 0, 0, 0, 0,
     0, 0, 0, 0, 0, 0, 0, 0, 0, 0, 0, 0, 0, 0, 0, 0, 0, 0, 0, 0,
     0, 0, 0, 0.5, 1.0, 0.5, 2.0, 4.0, 2.0, 0.5, 0.5, 1.5, 6.5, 2.0, 0.5, 4.5,
     6.5, 4.0, 1.5, 3.5],
    [0, 0, 0, 0, 0, 0, 0, 0, 0, 0, 0, 0, 0, 0, 0, 0, 0, 0, 0, 0,
     0, 0, 0, 0, 0, 0, 0, 0, 0, 0, 0, 0, 0, 0, 0, 0, 0, 0.5, 1.5, 0.5,
     0.3, 0.5, 1.0, 0.5, 2.0, 0.5, 0.5, 1.5, 0.5, 0.8, 2.0, 0.5, 0.5, 1.0, 2.0, 0.5,
     1.0, 2.0, 0.8, 0.5],
    [0, 0, 0, 0, 0, 0, 0, 0, 0, 0, 0, 0, 0, 0, 0, 0, 0, 0, 0, 0,
     0, 0, 0, 0, 0, 0, 0, 0, 0, 0, 0, 0, 0, 0, 0, 0, 0, 0, 0, 1.0,
     0.5, 0.3, 0.5, 2.0, 0.8, 0.3, 0.5, 2.0, 6.0, 1.5, 1.0, 0.5, 3.0, 1.0, 1.5, 3.0,
     1.0, 6.0, 4.0, 3.0],
    [0, 0, 0, 0, 0, 0, 0, 0, 0, 0, 0, 0, 0, 0, 0, 0, 0, 0, 0, 0,
     0, 0, 0, 0, 0, 0, 0, 0, 0, 0, 0, 0, 0, 0, 0, 0, 0.2, 0.5, 0.3, 0.5,
     1.0, 0.5, 2.5, 1.5, 4.0, 1.0, 0.5, 1.0, 2.0, 5.5, 3.0, 1.0, 2.0, 1.5, 3.5, 2.0,
     1.0, 1.5, 0.5, 1.0],
    [0, 0, 0, 0, 0, 0, 0, 0, 0, 0, 0, 0, 0, 0, 0, 0, 0, 0, 0, 0,
     0, 0, 0, 0, 0, 0, 0, 0, 0, 0, 0, 0, 0, 0, 0, 0, 0, 0, 0, 0,
     0.3, 0.8, 1.5, 3.5, 1.5, 0.3, 4.0, 6.0, 3.0, 1.0, 0.5, 2.0, 1.0, 3.5, 1.5, 2.5,
     4.5, 2.0, 1.0, 2.5],
    [0, 0, 0, 0, 0, 0, 0, 0, 0, 0, 0, 0, 0, 0, 0, 0, 0, 0, 0, 0,
     0, 0, 0, 0, 0, 0, 0, 0, 0, 0, 0, 0, 0, 0, 0.1, 0.3, 0.5, 1.0, 2.0, 1.0,
     0.5, 1.5, 3.0, 2.0, 0.5, 1.5, 5.5, 2.0, 1.0, 3.0, 6.0, 2.5, 0.5, 1.0, 2.0, 3.0,
     1.0, 2.5, 3.0, 1.5],
]

# ---------------- styling ----------------
C_OPER = '#c2403d'
C_CONTROLE = '#3636aa'
C_LEDEN = '#46a52d'
C_LEDEN_LEG = '#b9ddaa'
C_MEAN = '#111111'
C_MEDIAN = '#c23cc8'
C_TEXT = '#222222'

sns.set_theme(style='white')
plt.rcParams['font.family'] = ['Liberation Sans', 'DejaVu Sans']

W, H = 720, 1281
fig = plt.figure(figsize=(W / 100, H / 100), dpi=100)
fig.patches.append(Rectangle((0, 0), 3 / W, 1, transform=fig.transFigure,
                             color='#eeeeee', zorder=0))


def draw_panel(title, title_base, top, bottom, oper, controle, leden, mean, median, ylim, yticks,
               zero_line=False):
    ax = fig.add_axes([69 / W, 1 - bottom / H, 610 / W, (bottom - top) / H])
    fig.text(38 / W, 1 - title_base / H, title, fontsize=30.5, fontweight='medium',
             family=['Roboto', 'DejaVu Sans'], color='#333333', va='baseline', ha='left')

    # ensemble members
    df = pd.DataFrame({
        'step': [s for vals in leden for s in steps],
        'value': [v for vals in leden for v in vals],
        'member': [m for m, vals in enumerate(leden) for _ in steps],
    })
    sns.lineplot(data=df, x='step', y='value', units='member', estimator=None,
                 color=C_LEDEN, alpha=0.45, lw=0.9, ax=ax, legend=False, zorder=2)

    if zero_line:
        ax.axhline(0, color='black', lw=2.0, zorder=3)

    sns.lineplot(x=steps, y=median, color=C_MEDIAN, lw=2.0, ax=ax, zorder=4,
                 linestyle=(0, (3.5, 1.5)))
    sns.lineplot(x=steps, y=mean, color=C_MEAN, lw=2.0, ax=ax, zorder=5,
                 linestyle=(0, (1, 1.2)))
    sns.lineplot(x=steps, y=controle, color=C_CONTROLE, lw=2.4, ax=ax, zorder=6)
    sns.lineplot(x=steps[:len(oper)], y=oper, color=C_OPER, lw=2.4, ax=ax, zorder=7)

    # day separators
    for s in steps[1::4]:
        ax.axvline(s, color='#555555', lw=0.9, zorder=1.5)

    ax.set_xlim(0, 59)
    ax.set_ylim(*ylim)
    ax.set_yticks(yticks)
    ax.set_yticklabels([str(t) for t in yticks])
    labels = [''] * len(steps)
    for k, lab in enumerate(day_labels):
        labels[3 + 4 * k] = lab
    ax.set_xticks(steps)
    ax.set_xticklabels(labels)
    ax.set_xlabel('')
    ax.set_ylabel('')
    ax.grid(True, color='#dedede', lw=0.8, zorder=0)
    ax.set_axisbelow(True)
    ax.tick_params(axis='both', direction='out', length=4, width=0.8, color='#333333',
                   labelsize=7.6, labelcolor=C_TEXT, pad=1.5, bottom=True, left=True)
    ax.tick_params(axis='x', pad=2)
    for sp in ax.spines.values():
        sp.set_color('#333333')
        sp.set_linewidth(0.9)

    handles = [
        Line2D([], [], color=C_OPER, lw=2.6),
        Line2D([], [], color=C_CONTROLE, lw=2.6),
        Line2D([], [], color=C_LEDEN_LEG, lw=1.0),
        Line2D([], [], color=C_MEAN, lw=2.0, linestyle=(0, (1, 1.2))),
        Line2D([], [], color=C_MEDIAN, lw=2.0, linestyle=(0, (4, 1.5, 1, 1.5))),
    ]
    names = ['Oper.', 'Controle', 'Leden', 'gemiddelde', 'mediaan (middelste waarde)']
    ax.legend(handles, names, loc='lower left', bbox_to_anchor=(-0.004, 1.004), ncol=5,
              frameon=False, fontsize=7.8, handlelength=1.4, handletextpad=0.35,
              columnspacing=2.15, borderaxespad=0, borderpad=0.05)

    fig.text(679 / W, 1 - (top - 17) / H, 'Weerplaza.nl - regio midden', fontsize=6.8,
             color='#9c9c9c', ha='right', va='center')
    fig.text(679 / W, 1 - (top - 8) / H, 'Gemaakt: do 03 apr 21:53', fontsize=6.8,
             color='#9c9c9c', ha='right', va='center')
    return ax


draw_panel('Temperatuur', 74, 110, 373, temp_oper, temp_controle, temp_leden, temp_mean,
           temp_median, (-5, 30), list(range(-5, 31, 5)), zero_line=True)
draw_panel('Dauwpunt', 494, 531, 795, dauw_oper, dauw_controle, dauw_leden, dauw_mean,
           dauw_median, (-10, 20), list(range(-10, 21, 5)))
draw_panel('Neerslag', 917, 953, 1215, neer_oper, neer_controle, neer_leden, neer_mean,
           neer_median, (0, 26), list(range(0, 27, 2)))

fig.savefig('out.png', dpi=100, facecolor='white')
